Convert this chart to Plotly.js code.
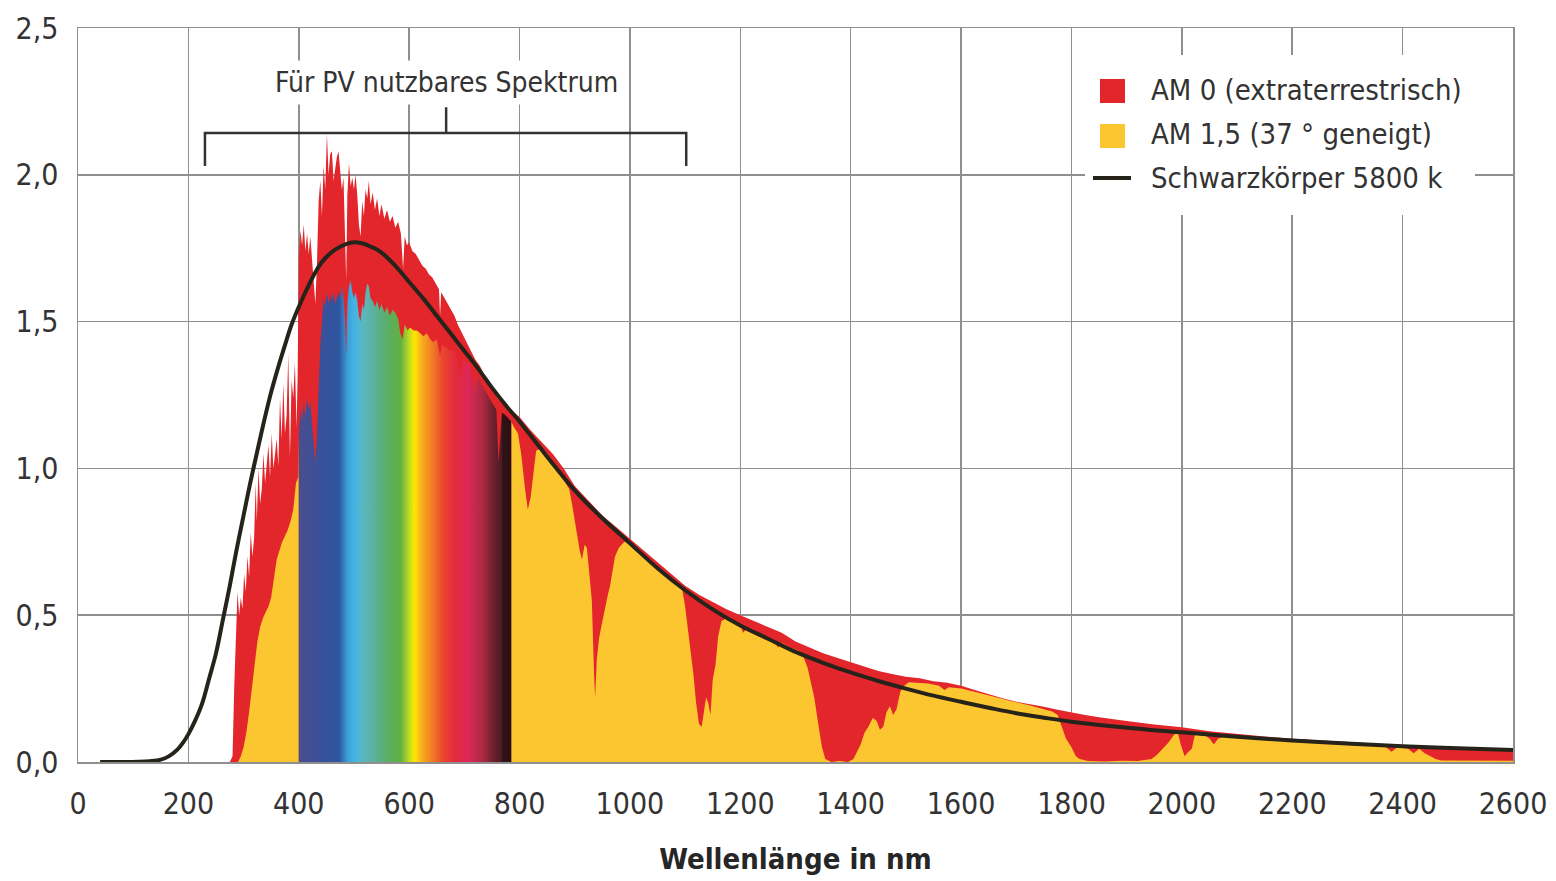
<!DOCTYPE html>
<html>
<head>
<meta charset="utf-8">
<script src="https://cdn.plot.ly/plotly-3.0.1.min.js"></script>
<style>
html,body{margin:0;padding:0;background:#ffffff;}
#chart{width:1556px;height:881px;}
</style>
</head>
<body>
<div id="chart"></div>
<script>
// ---------------- DATA ----------------
const am0Wavelength = [275,280,283,286,289,292,295,298,301,304,307,310,313,316,319,322,324,327,330,333,336,339,342,345,348,351,354,357,360,363,366,369,372,375,378,381,384,387,390,393,396,398,
  400,403,406,409,412,415,418,421,424,427,430,433,436,439,442,445,448,451,454,457,460,463,466,469,472,475,478,481,484,486,488,491,494,497,500,503,506,509,512,515,518,521,524,527,530,534,538,542,546,550,555,560,565,570,575,580,585,589,592,596,600,
  606,612,618,624,630,636,642,648,654,656,658,664,670,676,682,688,696,704,712,720,728,736,744,752,760,770,780,790,800,
  820,840,860,880,900,925,950,975,1000,1025,1050,1075,1100,1125,1150,1175,1200,1225,1250,1275,1300,1325,1350,1375,1400,1425,1450,1475,1500,
  1525,1550,1575,1600,1625,1650,1675,1700,1725,1750,1775,1800,1825,1850,1875,1900,1950,2000,2050,2100,2150,2200,2300,2400,2500,2600];
const am0Irradiance = [0,0.02,0.25,0.45,0.58,0.50,0.56,0.52,0.64,0.58,0.70,0.63,0.78,0.70,0.76,0.95,0.82,1.00,0.88,0.93,1.05,0.95,1.02,1.08,0.97,1.12,1.00,1.05,1.10,1.01,1.24,1.10,1.29,1.12,1.18,1.39,1.04,1.30,1.24,1.36,1.14,1.32,
  1.72,1.81,1.76,1.83,1.74,1.80,1.73,1.79,1.71,1.63,1.56,1.70,1.91,1.98,1.86,2.03,1.95,2.14,2.00,2.07,2.08,1.98,2.03,2.06,2.08,2.02,1.95,1.99,1.82,1.64,1.93,2.04,1.96,1.99,1.95,2.00,1.93,1.83,1.79,1.91,1.86,1.95,1.92,1.98,1.90,1.94,1.88,1.92,1.86,1.90,1.85,1.88,1.84,1.86,1.82,1.84,1.80,1.68,1.79,1.76,1.77,
  1.74,1.73,1.71,1.69,1.68,1.66,1.65,1.63,1.61,1.52,1.60,1.58,1.56,1.54,1.52,1.49,1.46,1.43,1.40,1.37,1.35,1.32,1.30,1.27,1.24,1.22,1.20,1.19,1.175,
  1.13,1.09,1.05,1.00,0.94,0.89,0.84,0.80,0.76,0.72,0.68,0.64,0.60,0.57,0.545,0.52,0.50,0.48,0.46,0.44,0.41,0.39,0.37,0.355,0.34,0.325,0.31,0.30,0.29,
  0.285,0.275,0.27,0.26,0.245,0.23,0.217,0.205,0.197,0.188,0.178,0.168,0.16,0.152,0.145,0.14,0.128,0.118,0.105,0.095,0.087,0.079,0.068,0.057,0.049,0.043];

const am15Wavelength = [290,295,300,305,310,315,320,325,330,335,340,345,350,355,360,365,370,375,380,385,390,395,399,
  400,403,406,409,412,415,418,421,424,427,430,433,436,439,442,445,448,451,454,457,460,463,466,469,472,475,478,481,484,486,488,491,494,497,500,503,506,509,512,515,518,521,524,527,530,534,538,542,546,550,555,560,565,570,575,580,584,588,592,597,602,608,614,620,626,632,638,644,650,656,660,668,674,680,686,692,698,704,710,716,720,724,730,736,742,748,754,758,762,765,768,775,780,785,
  790,797,803,810,815,820,825,830,840,850,860,870,880,890,895,900,904,909,913,918,922,927,931,935,937,940,944,948,952,956,960,964,968,973,980,990,1000,1020,1040,1060,1080,1095,
  1100,1104,1110,1115,1120,1125,1130,1134,1138,1142,1146,1150,1155,1160,1166,1175,1190,1200,1205,1212,1230,1250,1262,1268,1275,1290,1305,1313,1322,1334,1342,1348,1354,1365,1380,1395,1405,1412,1418,1425,1432,1440,1447,1453,1459,1465,1471,1477,1483,1490,1497,
  1505,1520,1540,1560,1570,1578,1600,1630,1660,1690,1720,1750,1765,1775,1782,1790,1800,1808,1815,1830,1860,1890,1920,1945,1955,1965,1975,1985,1992,1998,2005,2012,2018,2024,2040,2050,2058,2066,2080,2120,2160,2200,2250,2300,2340,2370,2380,2390,2410,2420,2430,2440,2450,2460,2470,2600];
const am15Irradiance = [0,0.02,0.05,0.10,0.17,0.25,0.33,0.41,0.46,0.49,0.51,0.53,0.56,0.62,0.69,0.72,0.75,0.77,0.79,0.82,0.86,0.95,0.97,
  1.12,1.20,1.16,1.22,1.18,1.24,1.20,1.23,1.15,1.08,1.02,1.12,1.30,1.42,1.50,1.58,1.55,1.60,1.56,1.59,1.57,1.60,1.56,1.58,1.60,1.58,1.62,1.58,1.50,1.38,1.56,1.62,1.64,1.60,1.58,1.60,1.57,1.52,1.50,1.56,1.54,1.60,1.63,1.62,1.58,1.57,1.55,1.57,1.54,1.56,1.53,1.55,1.52,1.54,1.53,1.51,1.46,1.44,1.49,1.47,1.48,1.47,1.47,1.46,1.45,1.46,1.44,1.43,1.44,1.38,1.42,1.41,1.40,1.40,1.38,1.31,1.37,1.36,1.35,1.30,1.26,1.32,1.29,1.27,1.25,1.23,1.21,1.20,1.02,1.12,1.19,1.18,1.17,1.16,
  1.14,1.12,1.05,0.93,0.86,0.90,0.98,1.06,1.07,1.05,1.02,0.99,0.96,0.93,0.88,0.82,0.78,0.72,0.69,0.74,0.73,0.62,0.55,0.30,0.22,0.35,0.42,0.46,0.50,0.53,0.57,0.60,0.65,0.70,0.73,0.75,0.745,0.71,0.675,0.64,0.61,0.585,
  0.53,0.47,0.38,0.30,0.20,0.13,0.12,0.18,0.22,0.20,0.16,0.28,0.33,0.43,0.48,0.49,0.475,0.465,0.44,0.455,0.44,0.425,0.41,0.39,0.405,0.39,0.38,0.365,0.32,0.22,0.12,0.05,0.01,0.0,0.003,0.0,0.01,0.04,0.06,0.10,0.12,0.15,0.14,0.11,0.12,0.17,0.19,0.16,0.18,0.24,0.26,
  0.272,0.27,0.267,0.26,0.245,0.255,0.25,0.237,0.222,0.208,0.195,0.18,0.172,0.16,0.12,0.08,0.05,0.02,0.01,0.003,0.002,0.004,0.003,0.01,0.025,0.045,0.065,0.09,0.105,0.06,0.02,0.035,0.045,0.095,0.093,0.08,0.06,0.08,0.088,0.083,0.078,0.072,0.066,0.061,0.057,0.05,0.035,0.05,0.045,0.03,0.045,0.03,0.02,0.01,0.005,0.004];

const blackbodyWavelength = [40,80,110,130,150,165,180,190,200,212,225,237,250,262,275,287,300,312,325,337,350,362,375,387,400,412,425,437,450,462,475,487,500,512,525,537,550,575,600,625,650,675,700,725,750,775,800,850,900,950,1000,1050,1100,1150,1200,1250,1300,1350,1400,1450,1500,1550,1600,1650,1700,1750,1800,1850,1900,1950,2000,2100,2200,2300,2400,2500,2600];
const blackbodyIrradiance = [0,0,0.001,0.003,0.008,0.02,0.042,0.065,0.095,0.14,0.20,0.28,0.37,0.48,0.60,0.72,0.84,0.95,1.06,1.16,1.26,1.34,1.42,1.49,1.55,1.60,1.65,1.69,1.72,1.74,1.755,1.765,1.77,1.768,1.76,1.75,1.735,1.69,1.635,1.58,1.52,1.46,1.40,1.34,1.275,1.215,1.16,1.04,0.925,0.83,0.745,0.66,0.585,0.52,0.465,0.42,0.375,0.338,0.305,0.276,0.25,0.226,0.205,0.185,0.166,0.151,0.137,0.126,0.117,0.108,0.101,0.086,0.073,0.063,0.054,0.047,0.041];

const xTickValues = [0,200,400,600,800,1000,1200,1400,1600,1800,2000,2200,2400,2600];
const xTickLabels = ['0','200','400','600','800','1000','1200','1400','1600','1800','2000','2200','2400','2600'];
const yTickValues = [0,0.5,1,1.5,2,2.5];
const yTickLabels = ['0,0','0,5','1,0','1,5','2,0','2,5'];
const seriesNames = ['AM 0 (extraterrestrisch)','AM 1,5 (37 ° geneigt)','Schwarzkörper 5800 k'];
const bracketLabel = 'Für PV nutzbares Spektrum';
const xAxisTitle = 'Wellenlänge in nm';
const visibleBand = [400, 785];        // nm range drawn in spectral colours
const pvBand = [230, 1102];            // bracket "Für PV nutzbares Spektrum"

// ---------------- STYLE ----------------
const FONT = "'DejaVu Sans Condensed','Liberation Sans Narrow','Arial Narrow',sans-serif";
const FONT_BOLD = "'Liberation Sans Narrow','DejaVu Sans Condensed','Arial Narrow',sans-serif";
const TEXT = '#333333';
const RED = '#e3262b';
const YELLOW = '#fbc62f';
const LINE = '#25231a';
const GRID = '#8f8f8f';
const rainbow = [[0,'#4b4d8d'],[0.10,'#39509a'],[0.19,'#2e56a0'],[0.23,'#3a9fd9'],[0.26,'#42b4e4'],[0.30,'#5ab7c2'],[0.36,'#5bb196'],[0.42,'#5aae64'],[0.48,'#62b03e'],[0.52,'#bfdc24'],[0.545,'#ffe600'],[0.58,'#f7ac1e'],[0.63,'#f07b25'],[0.68,'#e8452e'],[0.74,'#e3293f'],[0.80,'#dd2758'],[0.86,'#b02a45'],[0.92,'#6a1f2b'],[0.955,'#4a1a22'],[0.96,'#2e1216'],[1,'#2a1014']];

// segments of the AM 1,5 series
function segment(xs, ys, lo, hi){
  const ox=[], oy=[];
  for(let i=0;i<xs.length;i++){ if(xs[i]>=lo && xs[i]<=hi){ox.push(xs[i]); oy.push(ys[i]);} }
  return {x:ox, y:oy};
}
const amLow = segment(am15Wavelength, am15Irradiance, 0, visibleBand[0]);
const amVis = segment(am15Wavelength, am15Irradiance, visibleBand[0], visibleBand[1]);
const amHigh = segment(am15Wavelength, am15Irradiance, visibleBand[1], 1e9);

const traces = [
  {x: am0Wavelength, y: am0Irradiance, name: seriesNames[0], type:'scatter', mode:'lines', fill:'tozeroy',
   fillcolor: RED, line:{width:0, color:RED}, showlegend:false, hoverinfo:'skip'},
  {x: amLow.x, y: amLow.y, name: seriesNames[1], type:'scatter', mode:'lines', fill:'tozeroy',
   fillcolor: YELLOW, line:{width:0, color:YELLOW}, showlegend:false, hoverinfo:'skip'},
  {x: amHigh.x, y: amHigh.y, name: seriesNames[1], type:'scatter', mode:'lines', fill:'tozeroy',
   fillcolor: YELLOW, line:{width:0, color:YELLOW}, showlegend:false, hoverinfo:'skip'},
  {x: amVis.x, y: amVis.y, name: seriesNames[1], type:'scatter', mode:'lines', fill:'tozeroy',
   fillgradient:{type:'horizontal', colorscale: rainbow, start: visibleBand[0], stop: visibleBand[1]},
   line:{width:0, color:'#444'}, showlegend:false, hoverinfo:'skip'},
  {x: blackbodyWavelength, y: blackbodyIrradiance, name: seriesNames[2], type:'scatter', mode:'lines',
   line:{width:4, color:LINE, shape:'spline', smoothing:1.0}, showlegend:false, hoverinfo:'skip'}
];

// pixel -> paper helpers for the hand-made legend (plot area 78..1513 x 28..762)
const L = 78, R = 1513, T = 28, B = 762;
const px = v => (v - L) / (R - L);
const py = v => (B - v) / (B - T);

const shapes = [
  // bracket
  {type:'path', xref:'x', yref:'y', layer:'above',
   path:`M ${pvBand[0]},2.03 L ${pvBand[0]},2.142 L ${pvBand[1]},2.142 L ${pvBand[1]},2.03 M ${(pvBand[0]+pvBand[1])/2+1},2.142 L ${(pvBand[0]+pvBand[1])/2+1},2.23`,
   line:{color:TEXT, width:2.5}},
  // legend background
  {type:'rect', xref:'paper', yref:'paper', layer:'above', x0:px(1085), x1:px(1475), y0:py(215), y1:py(55),
   fillcolor:'#ffffff', line:{width:0}},
  {type:'rect', xref:'paper', yref:'paper', layer:'above', x0:px(1100), x1:px(1125), y0:py(103), y1:py(79),
   fillcolor:RED, line:{width:0}},
  {type:'rect', xref:'paper', yref:'paper', layer:'above', x0:px(1100), x1:px(1125), y0:py(148), y1:py(124),
   fillcolor:YELLOW, line:{width:0}},
  {type:'line', xref:'paper', yref:'paper', layer:'above', x0:px(1093), x1:px(1131), y0:py(178), y1:py(178),
   line:{color:LINE, width:4}}
];

const annotations = [
  {text: bracketLabel, xref:'x', yref:'y', x:(pvBand[0]+pvBand[1])/2+1, y:2.316, showarrow:false,
   font:{family:FONT, size:28, color:TEXT}, bgcolor:'#ffffff', borderpad:5, xanchor:'center', yanchor:'middle'},
  {text: seriesNames[0], xref:'paper', yref:'paper', x:px(1149), y:py(90), xanchor:'left', yanchor:'middle', showarrow:false,
   font:{family:FONT, size:29, color:TEXT}},
  {text: seriesNames[1], xref:'paper', yref:'paper', x:px(1149), y:py(134), xanchor:'left', yanchor:'middle', showarrow:false,
   font:{family:FONT, size:29, color:TEXT}},
  {text: seriesNames[2], xref:'paper', yref:'paper', x:px(1149), y:py(178), xanchor:'left', yanchor:'middle', showarrow:false,
   font:{family:FONT, size:29, color:TEXT}}
];

const layout = {
  width:1556, height:881,
  margin:{l:L, r:1556-R, t:T, b:881-B, pad:0},
  paper_bgcolor:'#ffffff', plot_bgcolor:'#ffffff',
  showlegend:false,
  xaxis:{range:[0,2600], tickvals:xTickValues, ticktext:xTickLabels, showgrid:true, gridcolor:GRID, gridwidth:1.5,
    zeroline:false, showline:true, mirror:true, linecolor:GRID, linewidth:1.5, ticks:'', ticklabelstandoff:14,
    tickfont:{family:FONT, size:30, color:TEXT}, fixedrange:true,
    title:{text:xAxisTitle, font:{family:FONT_BOLD, size:29, color:'#262626', weight:'bold'}, standoff:29}},
  yaxis:{range:[0,2.5], tickvals:yTickValues, ticktext:yTickLabels, showgrid:true, gridcolor:GRID, gridwidth:1.5,
    zeroline:false, showline:true, mirror:true, linecolor:GRID, linewidth:1.5, ticks:'', ticklabelstandoff:12,
    tickfont:{family:FONT, size:30, color:TEXT}, fixedrange:true},
  shapes: shapes,
  annotations: annotations
};

Plotly.newPlot('chart', traces, layout, {displayModeBar:false, staticPlot:true});
</script>
</body>
</html>
